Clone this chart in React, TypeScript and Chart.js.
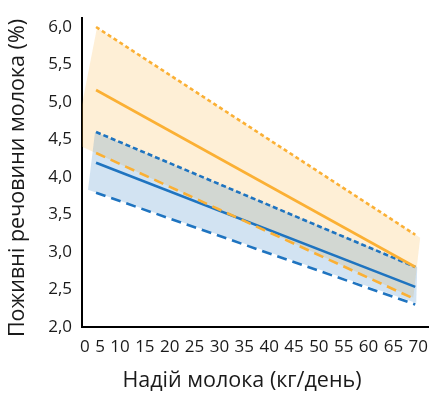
import React, { useEffect, useRef } from 'react';
import { Chart, registerables } from 'chart.js';

Chart.register(...registerables);

// ---- data ----
const LINE_X = [5, 70];
const ORANGE_MEAN = [5.16, 2.8];
const ORANGE_UPPER = [6.0, 3.23];
const ORANGE_LOWER = [4.32, 2.37];
const BLUE_MEAN = [4.19, 2.535];
const BLUE_UPPER = [4.6, 2.8];
const BLUE_LOWER = [3.79, 2.3];

const ORANGE_BAND_X = [5.19, 71.0, 69.6, 0.6];
const ORANGE_BAND_Y = [5.99, 3.19, 2.39, 4.45];
const BLUE_BAND_X = [4.8, 70.4, 70.2, 3.36];
const BLUE_BAND_Y = [4.6, 2.8, 2.32, 3.83];

const X_TICK_LABELS = ['0', '5', '10', '15', '20', '25', '30', '35', '40', '45', '50', '55', '60', '65', '70'];
const Y_TICKS = [2.0, 2.5, 3.0, 3.5, 4.0, 4.5, 5.0, 5.5, 6.0];

const X_TITLE = 'Надій молока (кг/день)';
const Y_TITLE = 'Поживні речовини молока (%)';

// ---- styles / layout ----
const W = 429;
const H = 394;
const X_MIN = 2.14;
const X_MAX = 72.8;
const Y_MIN = 2;
const Y_MAX = 6.12;
const PLOT_LEFT = 82;
const PLOT_W = W - PLOT_LEFT;
const ROW_START = 80;
const ROW_END = 428;
const FONT_FAMILY = '"Open Sans", "Noto Sans", sans-serif';
const TICK_SIZE = 17;
const TITLE_SIZE = 21.5;
const TEXT_COLOR = '#1a1a1a';
const ORANGE = '#FBB034';
const BLUE = '#1F74C0';
const ORANGE_FILL = 'rgba(251,176,52,0.2)';
const BLUE_FILL = 'rgba(31,116,192,0.2)';

const pts = (xs: number[], ys: number[]) => xs.map((x, i) => ({ x, y: ys[i] }));

const lineDs = (label: string, ys: number[], color: string, dash: number[]) => ({
  label,
  data: pts(LINE_X, ys),
  borderColor: color,
  backgroundColor: color,
  borderWidth: 2.6,
  borderDash: dash,
  borderCapStyle: 'butt',
  pointRadius: 0,
  fill: false,
  order: 0,
});

const bandDs = (label: string, xs: number[], ys: number[], color: string, order: number) => ({
  label,
  data: pts(xs, ys),
  borderColor: 'rgba(0,0,0,0)',
  backgroundColor: color,
  borderWidth: 0,
  pointRadius: 0,
  fill: 'shape',
  clip: false,
  order,
});

const axisTitles = {
  id: 'axisTitles',
  afterDraw(chart: any) {
    const { ctx, chartArea } = chart;
    ctx.save();
    ctx.fillStyle = TEXT_COLOR;
    ctx.font = `${TITLE_SIZE}px ${FONT_FAMILY}`;
    ctx.textAlign = 'center';
    ctx.textBaseline = 'middle';
    ctx.fillText(X_TITLE, chartArea.left + 160, H - 13);
    ctx.translate(18, chartArea.top + 160);
    ctx.rotate(-Math.PI / 2);
    ctx.fillText(Y_TITLE, 0, 0);
    ctx.restore();
  },
};

export default function App() {
  const ref = useRef<HTMLCanvasElement>(null);
  useEffect(() => {
    document.body.style.margin = '0';
    const chart = new Chart(ref.current as HTMLCanvasElement, {
      type: 'line',
      data: {
        datasets: [
          lineDs('orange upper', ORANGE_UPPER, ORANGE, [4, 3]),
          lineDs('orange mean', ORANGE_MEAN, ORANGE, []),
          lineDs('orange lower', ORANGE_LOWER, ORANGE, [10, 6]),
          lineDs('blue upper', BLUE_UPPER, BLUE, [5, 3]),
          lineDs('blue mean', BLUE_MEAN, BLUE, []),
          lineDs('blue lower', BLUE_LOWER, BLUE, [10, 6]),
          bandDs('blue band', BLUE_BAND_X, BLUE_BAND_Y, BLUE_FILL, 1),
          bandDs('orange band', ORANGE_BAND_X, ORANGE_BAND_Y, ORANGE_FILL, 2),
        ] as any,
      },
      options: {
        animation: false,
        responsive: false,
        layout: { padding: { top: 18, left: 0, right: 0, bottom: 0 } },
        plugins: { legend: { display: false }, tooltip: { enabled: false } },
        scales: {
          x: {
            type: 'linear',
            min: X_MIN,
            max: X_MAX,
            z: 1,
            grid: { display: false, drawTicks: false },
            border: { display: true, color: '#000', width: 2 },
            ticks: {
              autoSkip: false,
              maxRotation: 0,
              minRotation: 0,
              padding: 10,
              color: TEXT_COLOR,
              font: { family: FONT_FAMILY, size: TICK_SIZE },
              callback: (_v: any, i: number) => X_TICK_LABELS[i],
            },
            afterBuildTicks: (scale: any) => {
              const ctx = scale.ctx;
              ctx.save();
              ctx.font = `${TICK_SIZE}px ${FONT_FAMILY}`;
              const widths = X_TICK_LABELS.map((t) => ctx.measureText(t).width);
              ctx.restore();
              const sum = widths.reduce((a: number, b: number) => a + b, 0);
              const gap = (ROW_END - ROW_START - sum) / (widths.length - 1);
              const ppu = PLOT_W / (X_MAX - X_MIN);
              let cursor = ROW_START;
              scale.ticks = widths.map((w: number) => {
                const c = cursor + w / 2;
                cursor += w + gap;
                return { value: X_MIN + (c - PLOT_LEFT) / ppu };
              });
            },
            afterFit: (scale: any) => {
              scale.height = 67;
              scale.paddingLeft = 0;
              scale.paddingRight = 0;
            },
          },
          y: {
            type: 'linear',
            min: Y_MIN,
            max: Y_MAX,
            z: 1,
            grid: { display: false, drawTicks: false },
            border: { display: true, color: '#000', width: 2 },
            ticks: {
              padding: 10,
              color: TEXT_COLOR,
              font: { family: FONT_FAMILY, size: TICK_SIZE },
              callback: (v: any) => Number(v).toFixed(1).replace('.', ','),
            },
            afterBuildTicks: (scale: any) => {
              scale.ticks = Y_TICKS.map((v) => ({ value: v }));
            },
            afterFit: (scale: any) => {
              scale.width = PLOT_LEFT;
              scale.paddingTop = 0;
              scale.paddingBottom = 0;
            },
          },
        },
      } as any,
      plugins: [axisTitles],
    });
    return () => chart.destroy();
  }, []);
  return (
    <div style={{ width: W, height: H }}>
      <canvas ref={ref} width={W} height={H} style={{ display: 'block' }} />
    </div>
  );
}
